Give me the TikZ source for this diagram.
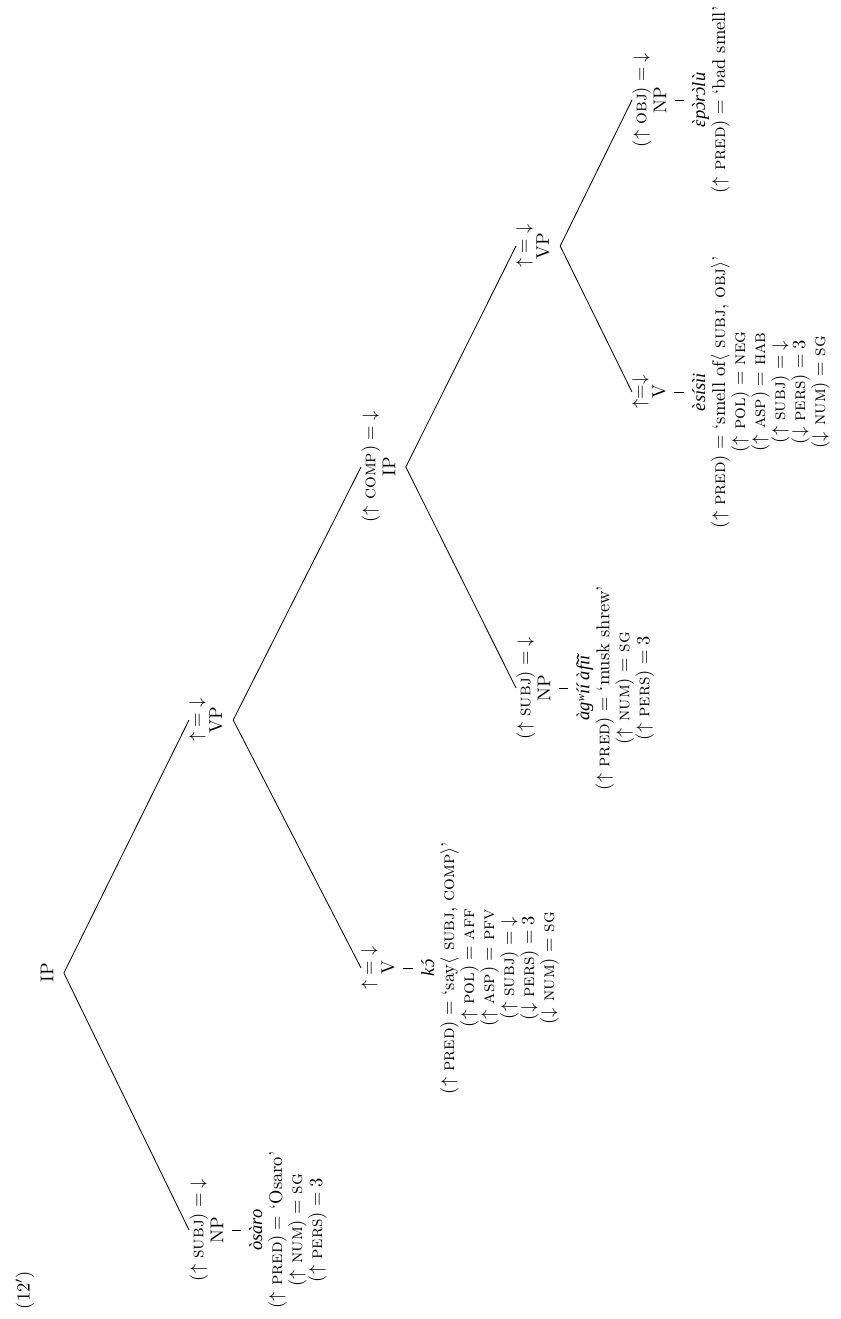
\documentclass[tikz,border=0pt]{standalone}
\usepackage{fontspec}
\newfontfamily\edofont{Liberation Serif}
\newcommand{\ed}[1]{{\edofont\itshape #1}}
\newcommand{\gv}[1]{{\accent"0060 #1}}
\newcommand{\ac}[1]{{\accent"00B4 #1}}
\newcommand{\fu}{\mathord{\uparrow}}
\newcommand{\fd}{\mathord{\downarrow}}
\newcommand{\sca}[1]{\textsc{#1}}
\begin{document}
\begin{tikzpicture}[x=0.54pt,y=-0.54pt,
  lbl/.style={rotate=90, align=center, inner sep=0pt, font=\fontsize{10}{10.8}\selectfont},
  edge/.style={draw, line width=0.45pt},
  bar/.style={draw, line width=0.45pt, shorten <=4.5pt, shorten >=4.5pt}]
\useasboundingbox (0,0) rectangle (840,1319);

\node[lbl] (ex) at (25,1290) {(12$'$)};

% root
\node[lbl] (ip0) at (47,973) {IP};
\coordinate (ip0b) at ([xshift=5.5pt]ip0.south);

% subject NP
\node[lbl, anchor=north] (np1) at (189,1230) {$(\fu$ \sca{subj}$) = \fd$\\NP};
\node[lbl, anchor=north] (w1) at (249,1230) {\ed{òsàro}\\$(\fu$ \sca{pred}$) =$ ‘Osaro’\\$(\fu$ \sca{num}$) =$ \sca{sg}\\$(\fu$ \sca{pers}$) = 3$};

% VP
\node[lbl, anchor=north] (vp1) at (189,720) {$\fu = \fd$\\VP};
\coordinate (vp1b) at ([xshift=5.5pt]vp1.south);

% V say
\node[lbl, anchor=north] (v1) at (361,968) {$\fu = \fd$\\V};
\node[lbl, anchor=north] (w2) at (421,968) {\ed{k\ac{ɔ}}\\$(\fu$ \sca{pred}$) =$ ‘say$\langle$ \sca{subj}, \sca{comp}$\rangle$’\\$(\fu$ \sca{pol}$) =$ \sca{aff}\\$(\fu$ \sca{asp}$) =$ \sca{pfv}\\$(\fu$ \sca{subj}$) = \fd$\\$(\fd$ \sca{pers}$) = 3$\\$(\fd$ \sca{num}$) =$ \sca{sg}};

% embedded IP
\node[lbl, anchor=north] (ip1) at (361,467) {$(\fu$ \sca{comp}$) = \fd$\\IP};
\coordinate (ip1b) at ([xshift=5.5pt]ip1.south);

% embedded subject NP
\node[lbl, anchor=north] (np2) at (516,688) {$(\fu$ \sca{subj}$) = \fd$\\NP};
\node[lbl, anchor=north] (w3) at (576,688) {\ed{àgʷíí àfĩĩ}\\$(\fu$ \sca{pred}$) =$ ‘musk shrew’\\$(\fu$ \sca{num}$) =$ \sca{sg}\\$(\fu$ \sca{pers}$) = 3$};

% embedded VP
\node[lbl, anchor=north] (vp2) at (516,246) {$\fu = \fd$\\VP};
\coordinate (vp2b) at ([xshift=5.5pt]vp2.south);

% V smell
\node[lbl, anchor=north] (v2) at (632,392) {$\fu{=}\fd$\\V};
\node[lbl, anchor=north] (w4) at (692,392) {\ed{èsísìi}\\$(\fu$ \sca{pred}$) =$ ‘smell of$\langle$ \sca{subj}, \sca{obj}$\rangle$’\\$(\fu$ \sca{pol}$) =$ \sca{neg}\\$(\fu$ \sca{asp}$) =$ \sca{hab}\\$(\fu$ \sca{subj}$) = \fd$\\$(\fd$ \sca{pers}$) = 3$\\$(\fd$ \sca{num}$) =$ \sca{sg}};

% object NP
\node[lbl, anchor=north] (np3) at (632,100) {$(\fu$ \sca{obj}$) = \fd$\\NP};
\node[lbl, anchor=north] (w5) at (692,100) {\ed{\gv{ɛ}p\gv{ɔ}r\gv{ɔ}lù}\\$(\fu$ \sca{pred}$) =$ ‘bad smell’};

% branches
\draw[edge] (ip0b) -- (np1.north);
\draw[edge] (ip0b) -- (vp1.north);
\draw[edge] (vp1b) -- (v1.north);
\draw[edge] (vp1b) -- (ip1.north);
\draw[edge] (ip1b) -- (np2.north);
\draw[edge] (ip1b) -- (vp2.north);
\draw[edge] (vp2b) -- (v2.north);
\draw[edge] (vp2b) -- (np3.north);

% lexical bars
\draw[bar] (np1.south) -- (w1.north);
\draw[bar] (v1.south) -- (w2.north);
\draw[bar] (np2.south) -- (w3.north);
\draw[bar] (v2.south) -- (w4.north);
\draw[bar] (np3.south) -- (w5.north);
\end{tikzpicture}
\end{document}
